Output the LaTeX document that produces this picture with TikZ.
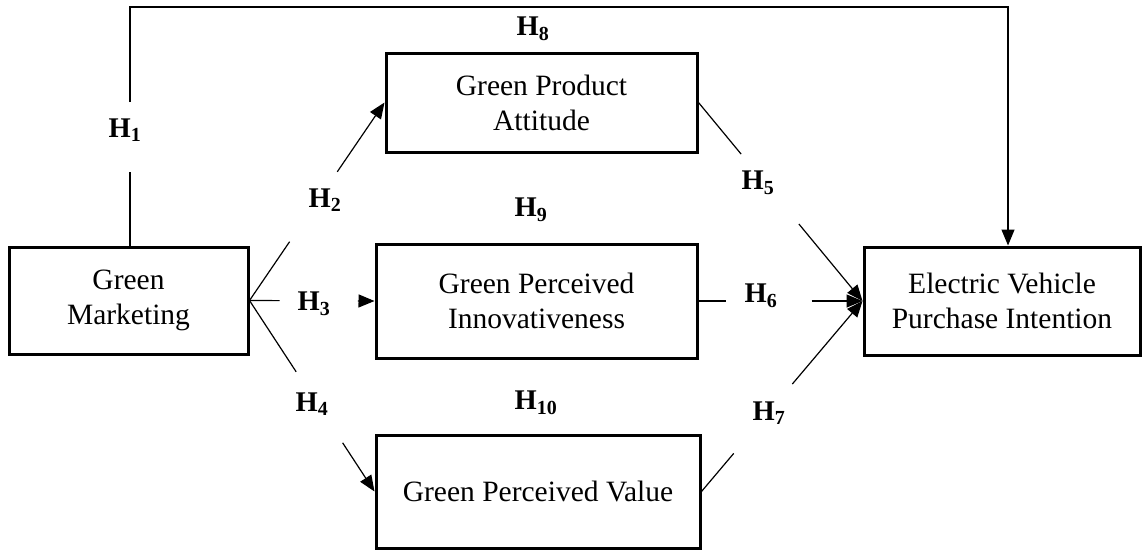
\documentclass[tikz,border=0pt]{standalone}
\usepackage{fontspec}
\setmainfont{Liberation Serif}
\usetikzlibrary{arrows.meta,calc}
\tikzset{
  box/.style={draw, line width=3pt, align=center, inner sep=0pt,
    font=\fontsize{29.5}{35}\selectfont},
  conn/.style={line width=1.2pt},
  tip/.style={conn, -{Triangle[length=16pt,width=13pt]}},
  hlab/.style={inner sep=0pt, font=\fontsize{28.5}{30}\selectfont\bfseries}
}
\newcommand{\hyp}[1]{H\textsubscript{#1}}
\begin{document}
\begin{tikzpicture}[x=1pt,y=-1pt]
\useasboundingbox (0,0) rectangle (1142,550);
% boxes
\node[box, minimum width=239pt, minimum height=107pt] (gm) at (128.5,300.5) {Green\\Marketing};
\node[box, minimum width=311pt, minimum height=99pt] (gpa) at (541.5,102.5) {Green Product\\Attitude};
\node[box, minimum width=321pt, minimum height=114pt] (gpi) at (536.5,301) {Green Perceived\\Innovativeness};
\node[box, minimum width=324pt, minimum height=113pt] (gpv) at (538,491.5) {Green Perceived Value};
\node[box, minimum width=276pt, minimum height=108pt] (ev) at (1002,301) {Electric Vehicle\\Purchase Intention};
% labels
\node[hlab] (h1) at (125,130) {\hyp{1}};
\node[hlab] (h2) at (325,200) {\hyp{2}};
\node[hlab] (h3) at (314,304) {\hyp{3}};
\node[hlab] (h4) at (312,404) {\hyp{4}};
\node[hlab] (h5) at (758,183) {\hyp{5}};
\node[hlab] (h6) at (761,296) {\hyp{6}};
\node[hlab] (h7) at (769,413) {\hyp{7}};
\node[hlab] (h8) at (533,29) {\hyp{8}};
\node[hlab] (h9) at (531,210) {\hyp{9}};
\node[hlab] (h10) at (536,403) {\hyp{10}};
% H1 path
\coordinate (s1) at (gm.north -| 130,0);
\coordinate (g1a) at (130,172);
\coordinate (g1b) at (130,102);
\coordinate (t1) at (130,7);
\coordinate (t2) at (1008,7);
\coordinate (e1) at (t2 |- ev.north);
\draw[conn] (s1) -- (g1a);
\draw[tip] (g1b) -- (t1) -- (t2) -- (e1);
% H2
\draw[conn] (gm.east) -- ($(gm.east)!0.297!(gpa.west)$);
\draw[tip] ($(gm.east)!0.65!(gpa.west)$) -- (gpa.west);
% H3
\draw[conn] (gm.east) -- ($(gm.east)!0.24!(gpi.west)$);
\draw[tip] ($(gm.east)!0.867!(gpi.west)$) -- (gpi.west);
% H4
\draw[conn] (gm.east) -- ($(gm.east)!0.373!(gpv.west)$);
\draw[tip] ($(gm.east)!0.745!(gpv.west)$) -- (gpv.west);
% H5
\draw[conn] (gpa.east) -- ($(gpa.east)!0.26!(ev.west)$);
\draw[tip] ($(gpa.east)!0.612!(ev.west)$) -- (ev.west);
% H6
\draw[conn] (gpi.east) -- ($(gpi.east)!0.168!(ev.west)$);
\draw[tip] ($(gpi.east)!0.689!(ev.west)$) -- (ev.west);
% H7
\draw[conn] (gpv.east) -- ($(gpv.east)!0.2!(ev.west)$);
\draw[tip] ($(gpv.east)!0.564!(ev.west)$) -- (ev.west);
\end{tikzpicture}
\end{document}
